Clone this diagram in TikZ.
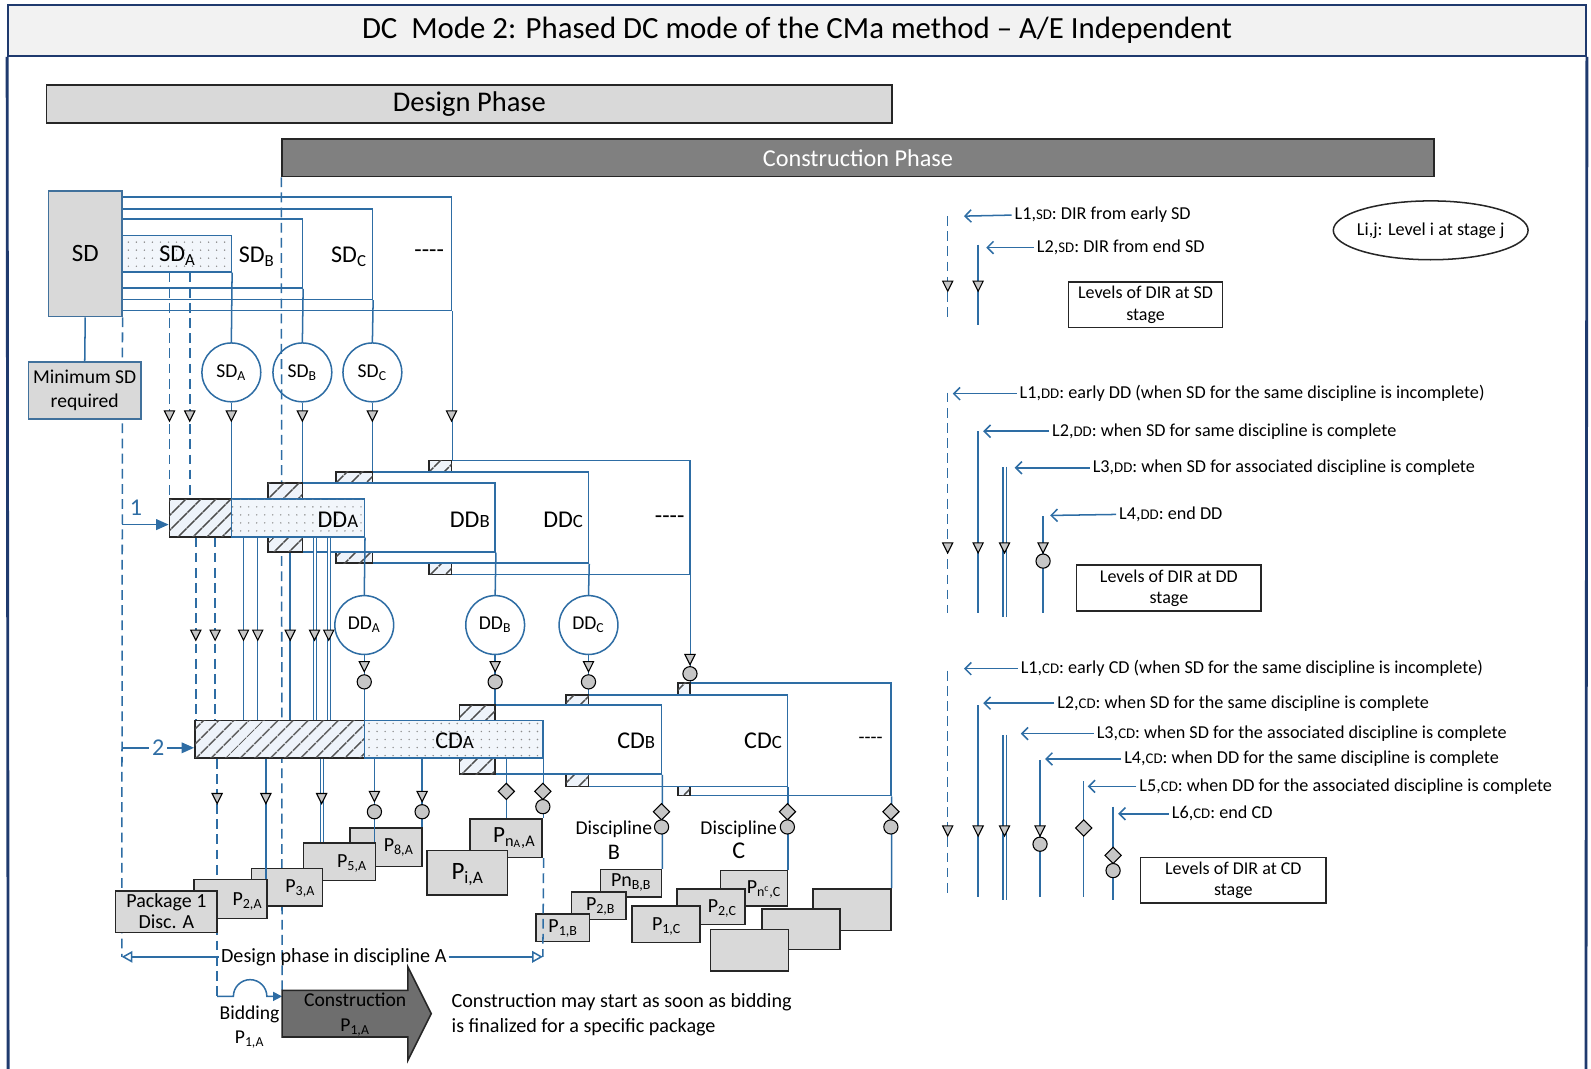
\documentclass[tikz,border=0pt]{standalone}
\usepackage{fontspec}
\setmainfont{Carlito}
\usepackage{tikz}
\usetikzlibrary{arrows.meta,positioning,fit,patterns.meta,shapes.geometric}
\definecolor{wireblue}{HTML}{2E6DA4}
\definecolor{framenavy}{HTML}{1F3A6E}
\definecolor{sdedge}{HTML}{41719C}
\definecolor{boxgray}{HTML}{D9D9D9}
\definecolor{titlegray}{HTML}{F2F2F2}
\definecolor{phasegray}{HTML}{808080}
\definecolor{arrowgray}{HTML}{6E6E6E}
\definecolor{hatchbg}{HTML}{EEF3FA}
\definecolor{dotbg}{HTML}{F2F6FB}
\newcommand{\fsz}[2]{\fontsize{#1}{#2}\selectfont}
\newcommand{\smbar}[1]{{\fontsize{10.5}{12}\selectfont #1}}
\newcommand{\smleg}[1]{{\fontsize{8.3}{9}\selectfont #1}}
\tikzset{
  wire/.style={draw=wireblue, line width=0.85pt},
  dwire/.style={wire, dash pattern=on 5.5pt off 3pt},
  twowire/.style={draw=wireblue, line width=0.6pt, double=white, double distance=1.1pt},
  stagebox/.style={draw=wireblue, line width=0.85pt, fill=white, inner sep=0pt},
  hatchbox/.style={draw=black!85, line width=0.85pt, fill=hatchbg, inner sep=0pt,
    postaction={pattern={Lines[angle=45,distance=6.5pt,line width=0.9pt]}, pattern color=black!70}},
  dotbox/.style={draw=wireblue, line width=0.85pt, fill=dotbg, inner sep=0pt,
    postaction={pattern={Dots[distance=4.5pt,radius=0.45pt]}, pattern color=black!45}},
  pkgbox/.style={draw=black!85, line width=0.85pt, fill=boxgray, inner sep=0pt},
  stagecirc/.style={circle, draw=wireblue, line width=0.85pt, fill=white, inner sep=0pt,
    minimum size=1.16cm, font=\fsz{11}{13}},
  barlbl/.style={inner sep=1pt, font=\fsz{13.5}{16}},
  pkglbl/.style={inner sep=1pt, align=center, font=\fsz{11.2}{12}},
  txt/.style={inner sep=1pt, align=center, font=\fsz{11}{13.6}},
  leg/.style={anchor=west, inner sep=1.5pt, font=\fsz{10.2}{12}},
  legbox/.style={draw=black!85, line width=0.85pt, inner sep=0pt},
  legarr/.style={wire, -{Straight Barb[length=3.5pt,width=7pt]}},
  tri/.pic={\filldraw[draw=black, fill=gray!45, line width=0.6pt] (-5,-5) -- (5,-5) -- (0,5) -- cycle;},
  rnd/.pic={\filldraw[draw=black, fill=gray!45, line width=0.6pt] (0,0) circle[radius=7];},
  dia/.pic={\filldraw[draw=black, fill=gray!45, line width=0.6pt] (0,-8) -- (8,0) -- (0,8) -- (-8,0) -- cycle;},
}
\begin{document}
\begin{tikzpicture}[x=0.02cm, y=-0.02cm]
  \useasboundingbox (0,0) rectangle (1568,1053);
  \foreach \k in {167,187,193,212,214,240,254,262,286,310,317,324,369,416,499}
    \coordinate (k\k) at (\k,0);
  % heading and phases
  \node[draw=framenavy, line width=1.1pt, fill=titlegray, inner sep=0pt, fit={(8,5) (1563,55)}] (title) {};
  \node[inner sep=0pt, font=\fsz{17.3}{20}] (ttitle) at (title.center)
    {DC\ \ Mode 2: Phased DC mode of the CMa method – A/E Independent};
  \coordinate (frameBL) at (8,1060);
  \coordinate (frameBR) at (1563,1060);
  \draw[draw=framenavy, line width=1.6pt] (title.south west) -- (frameBL);
  \draw[draw=framenavy, line width=1.6pt] (title.south east) -- (frameBR);
  \node[pkgbox, fit={(46,84) (879,121)}] (design) {};
  \node[inner sep=0pt, font=\fsz{16}{18}] (tdesign) at (design.center) {Design Phase};
  \node[pkgbox, fill=phasegray, fit={(278,137) (1413,174)}] (constr) {};
  \node[inner sep=0pt, text=white, font=\fsz{13.6}{16}] (tconstr) at (constr.center) {Construction Phase};

  % schematic design
  \node[stagebox, fit={(120,194) (445,306)}] (sdD) {};
  \node[stagebox, fit={(120,206) (367,295)}] (sdC) {};
  \node[stagebox, fit={(120,216) (298,284)}] (sdB) {};
  \node[dotbox, fit={(120,232) (228,268)}] (sdA) {};
  \node[draw=sdedge, line width=0.85pt, fill=boxgray, inner sep=0pt, fit={(48,188) (120,312)}] (sd) {};
  \node[barlbl, font=\fsz{14}{16}] (tsd) at (sd.center) {SD};
  \node[barlbl] (tsdA) at (175,252) {SD\textsubscript{A}};
  \node[barlbl] (tsdB) at (253,253) {SD\textsubscript{B}};
  \node[barlbl] (tsdC) at (344,253) {SD\textsubscript{C}};
  \node[barlbl] (tsdD) at (423,250) {-{}-{}-{}-};
  \coordinate (leftEnd) at (120,943);
  \draw[dwire] (sd.south east) -- (leftEnd);
  \node[pkgbox, draw=sdedge, fit={(28,357) (139,413)}] (minsd) {};
  \node[txt, font=\fsz{11}{13.6}] (tminsd) at (minsd.center) {Minimum SD\\required};
  \draw[wire] (sd.south) -- (minsd.north);
  \node[stagecirc] (cSDA) at (228,367) {SD\textsubscript{A}};
  \node[stagecirc] (cSDB) at (298,367) {SD\textsubscript{B}};
  \node[stagecirc] (cSDC) at (367,367) {SD\textsubscript{C}};
  \coordinate (constrEnd) at (278,976);
  \draw[dwire] (constr.south west) -- (constrEnd);

  % detailed design
  \node[stagebox, fit={(423,454) (680,566)}] (ddD) {};
  \node[hatchbox, fit={(423,454) (445,566)}] (ddDh) {};
  \node[stagebox, fit={(331,465) (580,555)}] (ddC) {};
  \node[hatchbox, fit={(331,465) (367,555)}] (ddCh) {};
  \node[stagebox, fit={(264,476) (488,544)}] (ddB) {};
  \node[hatchbox, fit={(264,476) (298,544)}] (ddBh) {};
  \node[hatchbox, fit={(167,492) (228,529)}] (ddAh) {};
  \node[dotbox, fit={(228,492) (359,529)}] (ddAd) {};
  \node[barlbl] (tddA) at (333,512) {DD\smbar{A}};
  \node[barlbl] (tddB) at (463,512) {DD\smbar{B}};
  \node[barlbl] (tddC) at (555,512) {DD\smbar{C}};
  \node[barlbl] (tddD) at (660,512) {-{}-{}-{}-};
  \node[stagecirc] (cDDA) at (359,616) {DD\textsubscript{A}};
  \node[stagecirc] (cDDB) at (488,616) {DD\textsubscript{B}};
  \node[stagecirc] (cDDC) at (580,616) {DD\textsubscript{C}};

  % construction documents
  \node[stagebox, fit={(668,673) (878,784)}] (cdD) {};
  \node[hatchbox, fit={(668,673) (680,784)}] (cdDh) {};
  \node[stagebox, fit={(558,685) (776,775)}] (cdC) {};
  \node[hatchbox, fit={(558,685) (580,775)}] (cdCh) {};
  \node[stagebox, fit={(453,695) (652,763)}] (cdB) {};
  \node[hatchbox, fit={(453,695) (488,763)}] (cdBh) {};
  \node[hatchbox, fit={(192,710) (359,747)}] (cdAh) {};
  \node[dotbox, fit={(359,710) (535,747)}] (cdAd) {};
  \node[barlbl] (tcdA) at (448,730) {CD\smbar{A}};
  \node[barlbl] (tcdB) at (627,730) {CD\smbar{B}};
  \node[barlbl] (tcdC) at (752,730) {CD\smbar{C}};
  \node[barlbl, font=\fsz{11}{12}] (tcdD) at (858,730) {-{}-{}-{}-};
  \coordinate (bidStart) at (214,982);
  \coordinate (desEnd) at (535,943);
  \draw[dwire] (cdAh.south -| k214) -- (bidStart);

  % packages
  \node[pkgbox, fit={(345,816) (416,854)}] (p8A) {};
  \node[pkgbox, fit={(299,831) (370,868)}] (p5A) {};
  \node[pkgbox, fit={(248,856) (318,893)}] (p3A) {};
  \node[pkgbox, fit={(191,867) (263,905)}] (p2A) {};
  \node[pkgbox, fit={(114,878) (214,919)}] (p1A) {};
  \node[pkgbox, fit={(463,807) (534,845)}] (pnA) {};
  \node[pkgbox, fit={(421,838) (500,882)}] (piA) {};
  \node[pkgbox, fit={(592,857) (652,884)}] (pnB) {};
  \node[pkgbox, fit={(563,879) (617,906)}] (p2B) {};
  \node[pkgbox, fit={(528,901) (581,928)}] (p1B) {};
  \node[pkgbox, fit={(710,858) (776,893)}] (pnC) {};
  \node[pkgbox, fit={(667,876) (734,911)}] (p2C) {};
  \node[pkgbox, fit={(623,893) (690,929)}] (p1C) {};
  \node[pkgbox, fit={(801,876) (878,917)}] (pxC) {};
  \node[pkgbox, fit={(751,896) (828,936)}] (pyC) {};
  \node[pkgbox, fit={(700,916) (777,957)}] (pzC) {};
  \node[pkglbl] (tp1A) at (164,898) {Package 1\\Disc. A};
  \node[pkglbl] (tp2A) at (244,888) {P\textsubscript{2,A}};
  \node[pkglbl] (tp3A) at (296,876) {P\textsubscript{3,A}};
  \node[pkglbl] (tp5A) at (347,851) {P\textsubscript{5,A}};
  \node[pkglbl] (tp8A) at (393,835) {P\textsubscript{8,A}};
  \node[pkglbl, font=\fsz{13}{14}] (tpnA) at (507,826) {P\textsubscript{n\textsubscript{A},A}};
  \node[pkglbl, font=\fsz{14}{15}] (tpiA) at (461,862) {P\textsubscript{i,A}};
  \node[pkglbl] (tpnB) at (622,870) {Pn\textsubscript{B,B}};
  \node[pkglbl] (tp2B) at (592,893) {P\textsubscript{2,B}};
  \node[pkglbl] (tp1B) at (555,915) {P\textsubscript{1,B}};
  \node[pkglbl] (tpnC) at (753,877) {P\textsubscript{n\textsuperscript{c},C}};
  \node[pkglbl] (tp2C) at (712,895) {P\textsubscript{2,C}};
  \node[pkglbl] (tp1C) at (657,913) {P\textsubscript{1,C}};
  \node[txt] (tdiscB) at (605,828) {Discipline\\{\fsz{12.5}{13.6}B}};
  \node[txt] (tdiscC) at (728,828) {Discipline\\{\fsz{13.5}{13.6}C}};

  % links between stages
  \foreach \k in {167,187} \draw[dwire] (sdA.south -| k\k) -- (ddAh.north -| k\k);
  \draw[wire] (sdA.south east) -- (cSDA.north);
  \draw[wire] (cSDA.south) -- (ddAh.north -| cSDA);
  \draw[wire] (sdB.south east) -- (cSDB.north);
  \draw[wire] (cSDB.south) -- (ddB.north -| cSDB);
  \draw[wire] (sdC.south east) -- (cSDC.north);
  \draw[wire] (cSDC.south) -- (ddC.north -| cSDC);
  \draw[wire] (sdD.south east) -- (ddD.north -| sdD.south east);
  \foreach \k in {193,212} \draw[dwire] (ddAh.south -| k\k) -- (cdAh.north -| k\k);
  \foreach \k in {240,254} \draw[wire] (ddAd.south -| k\k) -- (cdAh.north -| k\k);
  \draw[wire] (ddBh.south -| k286) -- (cdAh.north -| k286);
  \foreach \k in {310,324} \draw[twowire] (ddAd.south -| k\k) -- (cdAh.north -| k\k);
  \draw[wire] (ddAd.south east) -- (cDDA.north);
  \draw[wire] (cDDA.south) -- (cdAh.north -| cDDA);
  \draw[wire] (ddB.south east) -- (cDDB.north);
  \draw[wire] (cDDB.south) -- (cdB.north -| cDDB);
  \draw[wire] (ddC.south east) -- (cDDC.north);
  \draw[wire] (cDDC.south) -- (cdC.north -| cDDC);
  \draw[wire] (ddD.south east) -- (cdD.north -| ddD.south east);
  \draw[wire] (cdAh.south -| k262) -- (p2A.north -| k262);
  \draw[twowire] (cdAh.south -| k317) -- (p5A.north -| k317);
  \draw[wire] (cdAd.south -| k369) -- (p5A.north -| k369);
  \draw[wire] (cdAd.south -| k416) -- (p8A.north -| k416);
  \draw[wire] (cdAd.south -| k499) -- (pnA.north -| k499);
  \draw[wire] (cdAd.south east) -- (pnA.north -| cdAd.south east);
  \draw[dwire] (pnA.south -| cdAd.south east) -- (desEnd);
  \draw[wire] (cdB.south east) -- (pnB.north east);
  \draw[wire] (cdC.south east) -- (pnC.north east);
  \draw[wire] (cdD.south east) -- (pxC.north east);

  % DIR markers
  \foreach \k in {167,187,228,298,367,445} \pic at (\k,410) {tri};
  \foreach \k in {193,212,240,254,286,310,324} \pic at (\k,626) {tri};
  \foreach \k in {359,488,580} {\pic at (\k,657) {tri}; \pic at (\k,672) {rnd};}
  \pic at (680,650) {tri}; \pic at (680,664) {rnd};
  \foreach \k in {214,262,317} \pic at (\k,787) {tri};
  \foreach \k in {369,416} {\pic at (\k,785) {tri}; \pic at (\k,800) {rnd};}
  \pic at (499,780) {dia}; \pic at (535,780) {dia}; \pic at (535,795) {rnd};
  \foreach \k in {652,776,878} {\pic at (\k,800) {dia}; \pic at (\k,815) {rnd};}

  % entry arrows, design span, bidding
  \coordinate (in1) at (120,517);
  \coordinate (in2) at (120,737);
  \node[barlbl, text=wireblue] (one) at (134,500) {1};
  \node[barlbl, text=wireblue, inner sep=1.5pt] (two) at (156,737) {2};
  \draw[wire, -{Triangle[length=7pt,width=6pt]}] (in1) -- (ddAh.west |- in1);
  \draw[wire] (in2) -- (two.west);
  \draw[wire, -{Triangle[length=7pt,width=6pt]}] (two.east) -- (cdAh.west |- in2);
  \node[txt, font=\fsz{11.3}{12}] (tdes) at (329,943) {Design phase in discipline A};
  \draw[wire, -{Triangle[open,length=6pt,width=6.5pt]}] (tdes.west) -- (leftEnd);
  \draw[wire, -{Triangle[open,length=6pt,width=6.5pt]}] (tdes.east) -- (desEnd);
  \draw[wire, -{Triangle[length=5pt,width=5pt]}] (bidStart) -- ++(16,0)
    arc[start angle=180, end angle=360, radius=16.5] -- (constrEnd |- bidStart);
  \draw[draw=black!85, line width=0.85pt, fill=arrowgray] (constrEnd) -- (402,976) -- (402,953)
    -- (425,999) -- (402,1045) -- (402,1022) -- (278,1022) -- cycle;
  \node[txt] (tcons) at (350,1000) {Construction\\P\textsubscript{1,A}};
  \node[txt] (tbid) at (246,1012) {Bidding\\P\textsubscript{1,A}};
  \node[txt, anchor=west, align=left, font=\fsz{11.3}{13.6}] (tnote) at (443,1000)
    {Construction may start as soon as bidding\\is finalized for a specific package};

  % legend
  \node[ellipse, draw=black!85, line width=0.85pt, minimum width=3.84cm, minimum height=1.16cm,
        inner xsep=-4pt, inner ysep=0pt, font=\fsz{10.2}{12}] (keyLij) at (1410,227) {Li,j: Level i at stage j};
  \node[legbox, fit={(1053,278) (1205,323)}] (boxSD) {};
  \node[txt, font=\fsz{10.1}{12}] (tboxSD) at (boxSD.center) {Levels of DIR at SD\\stage};
  \node[legbox, fit={(1061,557) (1243,602)}] (boxDD) {};
  \node[txt, font=\fsz{10.1}{12}] (tboxDD) at (boxDD.center) {Levels of DIR at DD\\stage};
  \node[legbox, fit={(1124,845) (1307,890)}] (boxCD) {};
  \node[txt, font=\fsz{10.1}{12}] (tboxCD) at (boxCD.center) {Levels of DIR at CD\\stage};

  \coordinate (sd1t) at (934,213); \coordinate (sd1b) at (934,312);
  \coordinate (sd2t) at (964,241); \coordinate (sd2b) at (964,320);
  \coordinate (sd1a) at (950,213); \coordinate (sd2a) at (972,244);
  \draw[dwire] (sd1t) -- (sd1b);
  \draw[wire] (sd2t) -- (sd2b);
  \node[leg] (lSD1) at (997,212) {L1,\smleg{SD}: DIR from early SD};
  \node[leg] (lSD2) at (1019,244) {L2,\smleg{SD}: DIR from end SD};
  \draw[legarr] (lSD1.west) -- (sd1a);
  \draw[legarr] (lSD2.west) -- (sd2a);
  \pic at (934,282) {tri}; \pic at (964,282) {tri};

  \coordinate (dd1t) at (934,387); \coordinate (dd1b) at (934,604);
  \coordinate (dd2t) at (964,425); \coordinate (dd2b) at (964,604);
  \coordinate (dd3t) at (990,460); \coordinate (dd3b) at (990,608);
  \coordinate (dd4t) at (1028,509); \coordinate (dd4b) at (1028,604);
  \coordinate (dd1a) at (939,388); \coordinate (dd2a) at (969,425);
  \coordinate (dd3a) at (1000,461); \coordinate (dd4a) at (1035,508);
  \draw[dwire] (dd1t) -- (dd1b);
  \draw[wire] (dd2t) -- (dd2b);
  \draw[twowire] (dd3t) -- (dd3b);
  \draw[wire] (dd4t) -- (dd4b);
  \node[leg] (lDD1) at (1002,388) {L1,\smleg{DD}: early DD (when SD for the same discipline is incomplete)};
  \node[leg] (lDD2) at (1034,425) {L2,\smleg{DD}: when SD for same discipline is complete};
  \node[leg] (lDD3) at (1074,461) {L3,\smleg{DD}: when SD for associated discipline is complete};
  \node[leg] (lDD4) at (1100,507) {L4,\smleg{DD}: end DD};
  \draw[legarr] (lDD1.west) -- (dd1a);
  \draw[legarr] (lDD2.west) -- (dd2a);
  \draw[legarr] (lDD3.west) -- (dd3a);
  \draw[legarr] (lDD4.west) -- (dd4a);
  \foreach \k in {934,964,990,1028} \pic at (\k,540) {tri};
  \pic at (1028,553) {rnd};

  \coordinate (cd1t) at (934,661); \coordinate (cd1b) at (934,884);
  \coordinate (cd2t) at (964,695); \coordinate (cd2b) at (964,884);
  \coordinate (cd3t) at (990,724); \coordinate (cd3b) at (990,887);
  \coordinate (cd4t) at (1025,749); \coordinate (cd4b) at (1025,884);
  \coordinate (cd5t) at (1068,770); \coordinate (cd5b) at (1068,884);
  \coordinate (cd6t) at (1097,795); \coordinate (cd6b) at (1097,887);
  \coordinate (cd1a) at (950,659); \coordinate (cd2a) at (969,693);
  \coordinate (cd3a) at (1006,723); \coordinate (cd4a) at (1030,748);
  \coordinate (cd5a) at (1072,775); \coordinate (cd6a) at (1102,802);
  \draw[dwire] (cd1t) -- (cd1b);
  \draw[wire] (cd2t) -- (cd2b);
  \draw[twowire] (cd3t) -- (cd3b);
  \draw[wire] (cd4t) -- (cd4b);
  \draw[wire] (cd5t) -- (cd5b);
  \draw[wire] (cd6t) -- (cd6b);
  \node[leg] (lCD1) at (1003,659) {L1,\smleg{CD}: early CD (when SD for the same discipline is incomplete)};
  \node[leg] (lCD2) at (1039,693) {L2,\smleg{CD}: when SD for the same discipline is complete};
  \node[leg] (lCD3) at (1078,723) {L3,\smleg{CD}: when SD for the associated discipline is complete};
  \node[leg] (lCD4) at (1105,748) {L4,\smleg{CD}: when DD for the same discipline is complete};
  \node[leg] (lCD5) at (1120,775) {L5,\smleg{CD}: when DD for the associated discipline is complete};
  \node[leg] (lCD6) at (1152,802) {L6,\smleg{CD}: end CD};
  \draw[legarr] (lCD1.west) -- (cd1a);
  \draw[legarr] (lCD2.west) -- (cd2a);
  \draw[legarr] (lCD3.west) -- (cd3a);
  \draw[legarr] (lCD4.west) -- (cd4a);
  \draw[legarr] (lCD5.west) -- (cd5a);
  \draw[legarr] (lCD6.west) -- (cd6a);
  \foreach \k in {934,964,990,1025} \pic at (\k,819) {tri};
  \pic at (1025,832) {rnd};
  \pic at (1068,816) {dia};
  \pic at (1097,843) {dia}; \pic at (1097,858) {rnd};
\end{tikzpicture}
\end{document}
